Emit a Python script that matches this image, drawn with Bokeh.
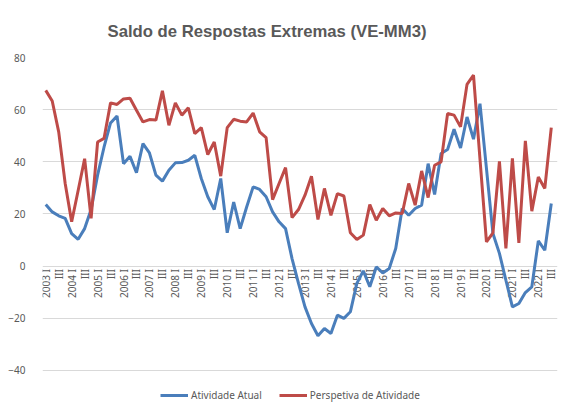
import math
from bokeh.plotting import figure
from bokeh.models import Range1d, Legend, LegendItem, ColumnDataSource
from bokeh.core.properties import value
from bokeh.embed import file_html
from bokeh.resources import INLINE

years = list(range(2003, 2023))
quarter_names = ["I", "II", "III", "IV"]
n_points = 79  # 2003 I .. 2022 III

atividade_atual = [
    23.6, 20.8, 19.3, 18.3, 12.5, 10.3, 14.4, 21.7, 34.9, 45.7, 54.9, 57.6, 39.3, 42.1, 35.8, 47.0,
    43.4, 34.9, 32.6, 36.8, 39.6, 39.7, 40.6, 42.5, 33.6, 26.6, 21.7, 33.6, 12.8, 24.6, 14.4,
    22.7, 30.4, 29.4, 26.6, 20.8, 17.0, 14.4, 2.9, -6.6, -15.6, -22.0, -26.7, -23.9, -25.8, -18.8,
    -20.0, -17.5, -6.6, -1.8, -7.9, -0.3, -2.6, -0.9, 6.8, 22.1, 19.5, 22.1, 23.4, 39.3, 27.5,
    43.2, 44.7, 52.5, 45.3, 57.2, 48.7, 62.3, 37.4, 12.5, 4.9, -5.4, -15.6, -14.3, -10.1, -7.9,
    9.7, 6.1, 24.0,
]
perspetiva_atividade = [
    67.4, 63.3, 51.5, 31.7, 17.0, 29.0, 41.2, 18.3, 47.6, 49.0, 62.6, 62.0, 64.1, 64.4, 59.8, 55.3,
    56.2, 56.0, 67.2, 54.0, 62.6, 57.9, 60.7, 50.8, 53.1, 42.8, 47.6, 34.5, 53.1, 56.3, 55.6,
    55.3, 58.7, 51.5, 49.3, 25.5, 31.7, 37.8, 18.6, 21.7, 27.2, 34.5, 17.9, 29.8, 19.5, 27.8,
    26.9, 12.8, 10.2, 11.9, 23.6, 17.6, 22.1, 19.3, 20.4, 20.2, 31.7, 23.4, 36.5, 26.3, 38.7,
    40.0, 58.5, 57.9, 53.4, 69.7, 73.2, 41.0, 9.3, 12.8, 40.2, 6.8, 41.3, 8.9, 48.0, 21.1,
    34.2, 29.8, 53.1,
]
y_ticks = [-40, -20, 0, 20, 40, 60, 80]

# category labels: "2003 I", "III", ... (only quarters I and III shown)
tick_labels = []
for yr in years:
    for q in quarter_names:
        if q == "I":
            tick_labels.append(f"{yr} I")
        elif q == "III":
            tick_labels.append("III")
        else:
            tick_labels.append("")
tick_labels = tick_labels[:n_points]
idx = list(range(n_points))

GRAY = "#595959"
BLUE = "#4a7ebb"
RED = "#be4b48"

# frame extends below -40 to leave room for the legend (no gridline there)
p = figure(width=559, height=404, output_backend="svg", toolbar_location=None,
           x_range=Range1d(-0.5, n_points - 0.5 + 0.46), y_range=Range1d(-53.04, 80),
           min_border_left=42, min_border_right=2, min_border_top=57, min_border_bottom=0)

p.xaxis.visible = False

p.title.text = "Saldo de Respostas Extremas (VE-MM3)"
p.title.align = "left"
p.title.offset = 65
p.title.standoff = 34
p.title.text_font = "Liberation Sans"
p.title.text_font_size = "16.7px"
p.title.text_font_style = "bold"
p.title.text_color = GRAY

p.outline_line_color = None
p.xgrid.visible = False
p.ygrid.grid_line_color = "#d9d9d9"
p.ygrid.grid_line_width = 1

p.yaxis.ticker = y_ticks
p.yaxis.axis_line_color = None
p.yaxis.major_tick_line_color = None
p.yaxis.minor_tick_line_color = None
p.yaxis.major_label_text_font = "Noto Sans"
p.yaxis.major_label_text_font_size = "10px"
p.yaxis.major_label_text_color = GRAY
p.yaxis.major_label_standoff = 11

src = ColumnDataSource(dict(x=idx, a=atividade_atual, b=perspetiva_atividade,
                            lab=tick_labels, zero=[0] * n_points))

# category labels drawn at the zero line, rotated like the original
p.text(x="x", y="zero", text="lab", source=src, angle=math.pi / 2,
       text_align="right", text_baseline="middle", y_offset=3,
       text_font=value("Noto Sans"), text_font_size="10px", text_color=GRAY)

r1 = p.line(x="x", y="a", source=src, line_color=BLUE, line_width=3)
r2 = p.line(x="x", y="b", source=src, line_color=RED, line_width=3)

legend = Legend(items=[LegendItem(label="Atividade Atual", renderers=[r1]),
                       LegendItem(label="Perspetiva de Atividade", renderers=[r2])],
                orientation="horizontal", location=(118, 2),
                label_text_font="Noto Sans", label_text_font_size="10px",
                label_text_color=GRAY, glyph_width=28, glyph_height=10,
                label_height=10, label_standoff=3, spacing=17,
                padding=2, margin=0, border_line_color=None,
                background_fill_alpha=0)
p.add_layout(legend)

open("out.html", "w").write(file_html(p, INLINE))
